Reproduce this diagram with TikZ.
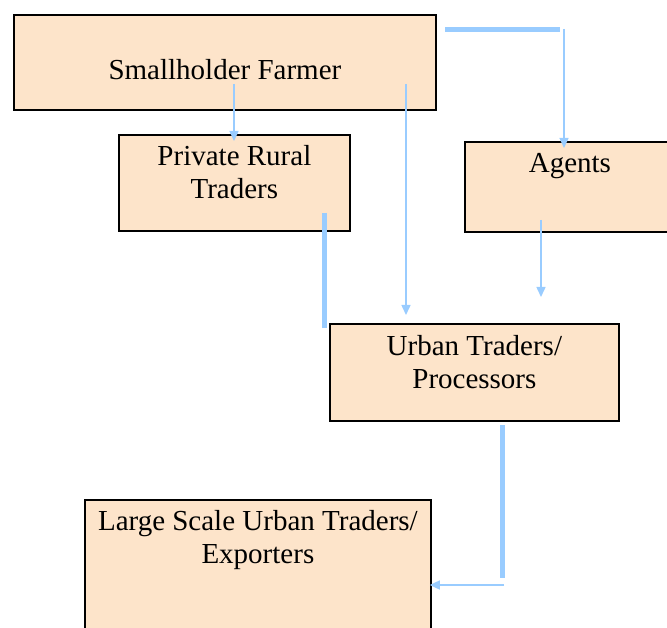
\documentclass[tikz,border=0pt]{standalone}
\usepackage{fontspec}
\setmainfont{Liberation Serif}
\usepackage{xcolor}
\definecolor{cBox}{HTML}{FDE4CA}
\definecolor{cFlow}{HTML}{99CCFF}
\usepackage{tikz}
\usetikzlibrary{positioning,arrows.meta,calc}
\tikzset{
  node-box/.style={draw=black,line width=1.8pt,fill=cBox,anchor=north west,
    inner sep=0pt,align=center,font=\fontsize{29}{33}\selectfont},
  arrow-flow/.style={-{Triangle[length=10pt,width=9pt]},line width=1.5pt,draw=cFlow},
  bar-flow/.style={line width=5pt,draw=cFlow},
}
\begin{document}
\begin{tikzpicture}[x=1pt,y=-1pt]
  \clip (0,0) rectangle (667,628);
  % boxes: top-left corner, width; text height/depth put the last baseline
  \node[node-box,minimum width=422pt,text height=65pt,text depth=30pt] (farmer) at (13,14) {Smallholder Farmer};
  \node[node-box,minimum width=231pt,text height=64pt,text depth=32pt] (rural) at (118,134) {Private Rural\\Traders};
  \node[node-box,minimum width=210pt,text height=31pt,text depth=59pt] (agents) at (464,141) {Agents};
  \node[node-box,minimum width=289pt,text height=65pt,text depth=32pt] (urban) at (329,323) {Urban Traders/\\Processors};
  \node[node-box,minimum width=346pt,text height=64pt,text depth=97pt] (large) at (84,499) {Large Scale Urban Traders/\\Exporters};
  % loose ends of the flows
  \coordinate (f1) at (234,84);
  \coordinate (f2) at (406,84);
  \coordinate (b1) at (445,30);
  \coordinate (b2) at (560,30);
  \coordinate (a1) at (564,29);
  \coordinate (a2) at (541,220);
  \coordinate (a3) at (541,297);
  \coordinate (r1) at (324,213);
  \coordinate (r2) at (324,328);
  \coordinate (u1) at (502,425);
  \coordinate (u2) at (502,578);
  \coordinate (u3) at (504,585);
  \draw[arrow-flow] (f1) -- ([yshift=-7pt]f1 |- rural.north);
  \draw[arrow-flow] (f2) -- ([yshift=8pt]f2 |- urban.north);
  \draw[bar-flow] (b1) -- (b2);
  \draw[arrow-flow] (a1) -- ([yshift=-7pt]a1 |- agents.north);
  \draw[arrow-flow] (a2) -- (a3);
  \draw[bar-flow] (r1) -- (r2);
  \draw[bar-flow] (u1) -- (u2);
  \draw[arrow-flow] (u3) -- ([xshift=-2pt]u3 -| large.east);
\end{tikzpicture}
\end{document}
